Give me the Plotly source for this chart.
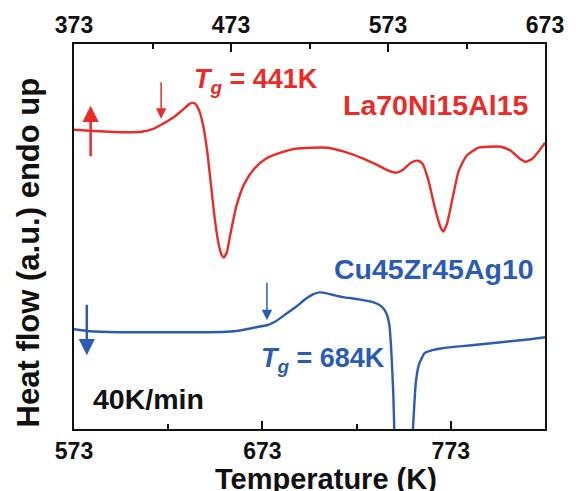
import plotly.graph_objects as go

# La70Ni15Al15 DSC trace (temperature on top axis, K)
la_T = [373.0, 383.0, 395.5, 407.9, 416.0, 423.5, 428.5, 436.0, 442.2, 446.6,
        448.5, 450.3, 452.8, 455.3, 457.8, 460.3, 462.8, 465.3, 467.2, 468.4,
        470.3, 472.8, 476.5, 481.5, 487.8, 495.2, 504.6, 514.0, 534.5, 545.1,
        555.7, 567.0, 573.2, 578.2, 582.6, 587.6, 591.9, 595.0, 598.8, 602.5,
        606.3, 608.1, 610.6, 613.8, 618.1, 623.1, 630.6, 637.4, 644.9, 651.2,
        656.2, 660.5, 664.9, 669.3, 673.0]
la_hf = [30.0, 29.9, 29.8, 29.75, 29.8, 30.1, 30.5, 31.2, 32.0, 32.6,
         32.7, 32.6, 31.9, 30.4, 27.9, 24.4, 20.9, 18.4, 17.4, 17.2,
         17.7, 19.7, 22.4, 24.6, 26.1, 27.1, 27.7, 28.1, 28.2, 27.8,
         27.2, 26.4, 25.9, 25.7, 26.0, 26.7, 26.9, 26.6, 24.9, 22.4,
         20.3, 19.8, 20.6, 22.9, 25.9, 27.4, 28.2, 28.3, 28.3, 27.9,
         27.2, 26.8, 27.1, 27.9, 28.7]

# Cu45Zr45Ag10 DSC trace (temperature on bottom axis, K)
cu_T = [573.0, 581.3, 596.9, 617.7, 638.5, 654.1, 661.9, 667.1, 672.3, 675.4,
        680.1, 685.3, 690.5, 695.7, 699.8, 703.5, 707.1, 711.3, 716.5, 724.3,
        732.1, 736.2, 738.8, 740.4, 741.4, 742.5, 743.0, 744.5, 747.7, 750.8,
        752.9, 754.4, 756.0, 759.1, 763.2, 768.4, 784.0, 799.6, 815.2, 823.0]
cu_hf = [10.0, 9.8, 9.7, 9.7, 9.7, 9.75, 9.9, 10.1, 10.3, 10.4,
         10.8, 11.5, 12.2, 13.0, 13.5, 13.7, 13.6, 13.4, 13.2, 13.0,
         12.7, 12.3, 11.6, 10.4, 7.9, 3.4, 0.0, -7.1, -8.6, -7.1,
         0.0, 4.6, 6.4, 7.6, 7.9, 8.1, 8.4, 8.7, 9.0, 9.2]

bottom_ticks = [573, 673, 773]
top_ticks = [373, 473, 573, 673]

# onset markers and heating-direction arrows: (T, heat flow at arrow head)
la_onset = (428.5, 31.1)
cu_onset = (675.4, 10.9)
la_dir = (383.6, 32.4)
cu_dir = (579.8, 7.4)

RED = "#ea2b27"
BLUE = "#2c5bb4"
INK = "#111111"
FONT = "Liberation Sans, Arial, sans-serif"

fig = go.Figure()
fig.add_trace(go.Scatter(x=cu_T, y=cu_hf, mode="lines", xaxis="x", yaxis="y",
                         line=dict(color=BLUE, width=2.4, shape="spline", smoothing=0.5),
                         showlegend=False))
fig.add_trace(go.Scatter(x=la_T, y=la_hf, mode="lines", xaxis="x2", yaxis="y",
                         line=dict(color=RED, width=2.4, shape="spline", smoothing=0.6),
                         showlegend=False))

tickfont = dict(family=FONT, size=23, color=INK, weight="bold")
axis_common = dict(showline=True, linecolor=INK, linewidth=2, showgrid=False,
                   zeroline=False, ticks="inside", ticklen=8, tickwidth=2,
                   tickcolor=INK, tickfont=tickfont)

fig.update_layout(
    width=576, height=491,
    margin=dict(l=74, r=21, t=43, b=62),
    paper_bgcolor="white", plot_bgcolor="white",
    xaxis=dict(range=[573, 823], tickvals=bottom_ticks, ticktext=[str(v) for v in bottom_ticks],
               minor=dict(ticks="inside", ticklen=5, tickwidth=2, tickcolor=INK, dtick=50, tick0=573),
               side="bottom", **axis_common),
    xaxis2=dict(range=[373, 673], tickvals=top_ticks, ticktext=[str(v) for v in top_ticks],
                overlaying="x", side="top", anchor="y",
                minor=dict(ticks="inside", ticklen=5, tickwidth=2, tickcolor=INK, dtick=50, tick0=373),
                **axis_common),
    yaxis=dict(range=[0, 38.6], showline=True, mirror=True, linecolor=INK, linewidth=2,
               showgrid=False, zeroline=False, showticklabels=False, ticks=""),
)

def px_x(p):
    return (p - 74) / 481

def px_y(p):
    return (429 - p) / 386

label_font = dict(family=FONT, size=28.5, weight="bold")
tg_font = dict(family=FONT, size=27, weight="bold")
annots = [
    dict(text="<i>T</i><sub><i>g</i></sub> = 441K", x=px_x(195), y=px_y(80),
         xanchor="left", yanchor="middle", font=dict(color=RED, **tg_font)),
    dict(text="La70Ni15Al15", x=px_x(541), y=px_y(104),
         xanchor="right", yanchor="middle", font=dict(color=RED, **label_font)),
    dict(text="Cu45Zr45Ag10", x=px_x(546), y=px_y(269),
         xanchor="right", yanchor="middle", font=dict(color=BLUE, **label_font)),
    dict(text="<i>T</i><sub><i>g</i></sub> = 684K", x=px_x(263), y=px_y(360),
         xanchor="left", yanchor="middle", font=dict(color=BLUE, **tg_font)),
    dict(text="40K/min", x=px_x(91), y=px_y(399),
         xanchor="left", yanchor="middle", font=dict(color=INK, **label_font)),
    dict(text="Temperature (K)", x=px_x(331), y=px_y(479),
         xanchor="center", yanchor="middle",
         font=dict(family=FONT, size=29, color=INK, weight="bold")),
    dict(text="Heat flow (a.u.) endo up", x=px_x(28), y=px_y(252), textangle=-90,
         xanchor="center", yanchor="middle",
         font=dict(family=FONT, size=31, color=INK, weight="bold")),
]
for a in annots:
    a.update(xref="paper", yref="paper", showarrow=False)

arrows = [
    dict(x=la_onset[0], y=la_onset[1], xref="x2", yref="y", ax=0, ay=-38,
         arrowcolor=RED, arrowwidth=1.5, arrowhead=2, arrowsize=1.4),
    dict(x=cu_onset[0], y=cu_onset[1], xref="x", yref="y", ax=0, ay=-39,
         arrowcolor=BLUE, arrowwidth=1.5, arrowhead=2, arrowsize=1.4),
    dict(x=la_dir[0], y=la_dir[1], xref="x2", yref="y", ax=0, ay=52,
         arrowcolor=RED, arrowwidth=2.5, arrowhead=2, arrowsize=1.3),
    dict(x=cu_dir[0], y=cu_dir[1], xref="x", yref="y", ax=0, ay=-52,
         arrowcolor=BLUE, arrowwidth=2.5, arrowhead=2, arrowsize=1.3),
]
for a in arrows:
    a.update(text="", showarrow=True)

fig.update_layout(annotations=annots + arrows)
fig.write_html("out.html")
